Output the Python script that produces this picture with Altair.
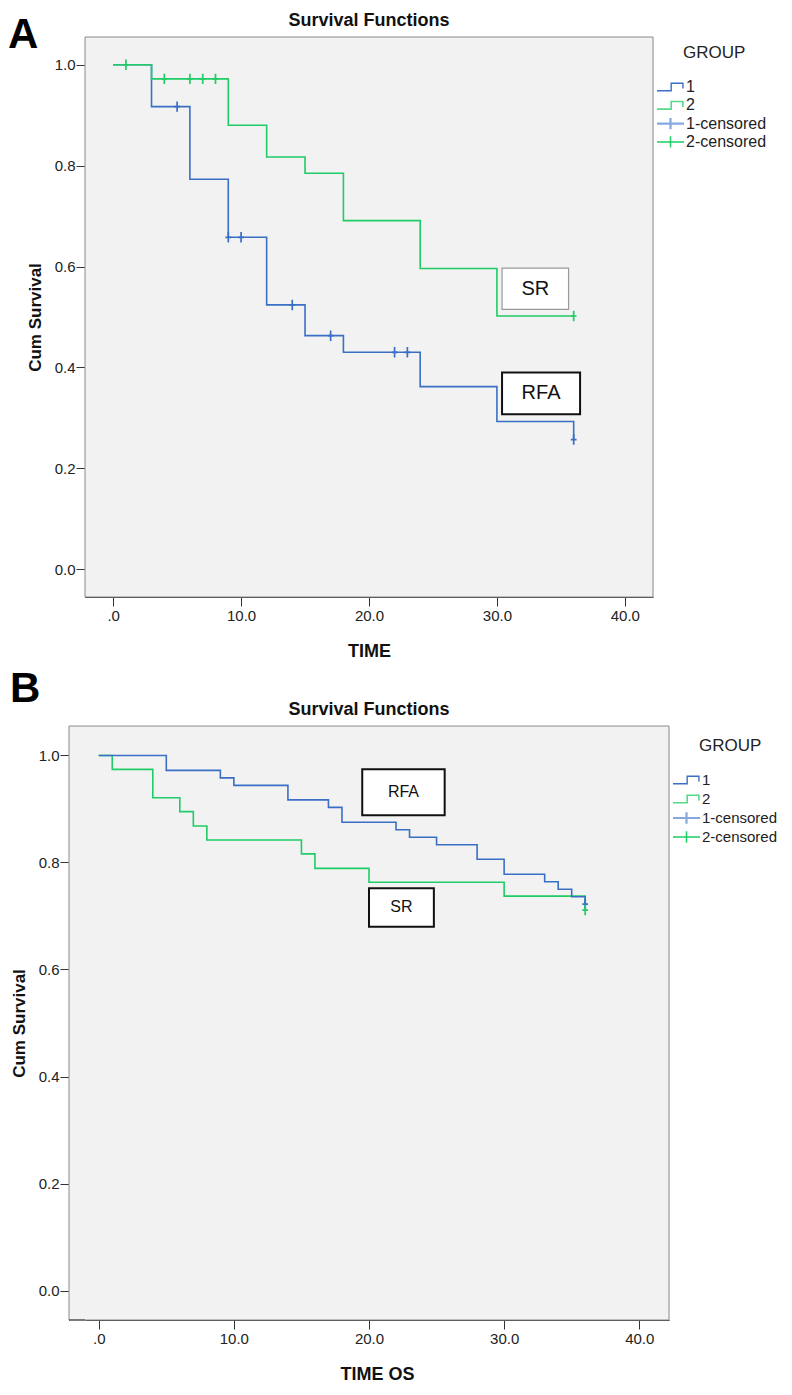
import altair as alt
import pandas as pd

FONT = "Liberation Sans"
BLUE = "#3b6fc6"
GREEN = "#1fcc66"
BLUE_LIGHT = "#86a8de"
BG = "#f2f2f2"
FRAME = "#8a8a8a"
AXIS = "#333333"

# ---------------- Panel A (TIME) ----------------
a_g1_time = [0, 3, 6, 9, 12, 15, 18, 24, 30, 36]
a_g1_surv = [1.0, 0.917, 0.773, 0.658, 0.524, 0.463, 0.430, 0.362, 0.293, 0.257]
a_g2_time = [0, 3, 9, 12, 15, 18, 24, 30, 36]
a_g2_surv = [1.0, 0.972, 0.880, 0.817, 0.785, 0.691, 0.596, 0.502, 0.502]
a_g1_cens_time = [5, 9, 10, 14, 17, 22, 23, 36]
a_g1_cens_surv = [0.917, 0.658, 0.658, 0.524, 0.463, 0.430, 0.430, 0.257]
a_g2_cens_time = [1, 4, 6, 7, 8, 36]
a_g2_cens_surv = [1.0, 0.972, 0.972, 0.972, 0.972, 0.502]

# ---------------- Panel B (TIME OS) ----------------
b_g1_time = [0, 5, 9, 10, 14, 17, 18, 22, 23, 25, 28, 30, 33, 34, 35, 36]
b_g1_surv = [1.0, 0.972, 0.958, 0.944, 0.917, 0.903, 0.875, 0.861, 0.847, 0.833,
             0.806, 0.778, 0.764, 0.750, 0.736, 0.722]
b_g2_time = [0, 1, 4, 6, 7, 8, 15, 16, 20, 30, 36]
b_g2_surv = [1.0, 0.974, 0.921, 0.895, 0.868, 0.842, 0.816, 0.789, 0.763, 0.737, 0.711]
b_g1_cens_time = [36]
b_g1_cens_surv = [0.722]
b_g2_cens_time = [36]
b_g2_cens_surv = [0.711]

LEGEND_LABELS = ["1", "2", "1-censored", "2-censored"]
X_TICKS = [0, 10, 20, 30, 40]
Y_TICKS = [0, 0.2, 0.4, 0.6, 0.8, 1.0]

X_MIN, X_MAX = -2.2, 42.2
Y_DOMAIN = [-0.055, 1.055]

STEP_ICON = "M -1 0.28 L 0.05 0.28 L 0.05 -0.28 L 0.92 -0.28 L 0.92 0.12"
CENS_ICON = "M -1 0 L 1 0 M 0 -0.42 L 0 0.42"
CROSS = "M 0 -1 L 0 1 M -0.55 0 L 0.55 0"


def one():
    return alt.Data(values=[{"k": 1}])


def panel(frame_w, h, shift, g1t, g1s, g2t, g2s, c1t, c1s, c2t, c2s, boxes,
          xtitle, letter, letter_pos, legend_pos, row_gap, leg_fs,
          blue_on_top, top_space):
    # The visible frame spans [-shift, view_w]; the view itself starts at 0.
    view_w = frame_w - shift
    px_per_unit = frame_w / (X_MAX - X_MIN)
    x_lo = X_MIN + shift / px_per_unit
    xscale = alt.Scale(domain=[x_lo, X_MAX], nice=False, zero=False)
    yscale = alt.Scale(domain=Y_DOMAIN, nice=False, zero=False)
    xaxis = alt.Axis(
        values=X_TICKS,
        labelExpr="datum.value == 0 ? '.0' : format(datum.value, '.1f')",
        tickSize=9, labelPadding=2, labelFontSize=15, labelFont=FONT,
        labelColor="#222", domainColor=AXIS, tickColor=AXIS, grid=False,
        title=xtitle, titleFont=FONT, titleFontSize=18, titleFontWeight="bold",
        titlePadding=19, titleColor="#111",
    )
    yaxis = alt.Axis(
        values=Y_TICKS, format=".1f", offset=shift,
        tickSize=9, labelPadding=1, labelFontSize=15, labelFont=FONT,
        labelColor="#222", domainColor=AXIS, tickColor=AXIS, grid=False,
        title="Cum Survival", titleFont=FONT, titleFontSize=17,
        titleFontWeight="bold", titlePadding=10, titleColor="#111",
    )

    layers = []
    # plot frame / background
    layers.append(
        alt.Chart(one()).mark_rect(
            fill=BG, stroke=FRAME, strokeWidth=1
        ).encode(x=alt.value(-shift), x2=alt.value(view_w),
                 y=alt.value(0), y2=alt.value(h))
    )
    if shift > 0:
        layers.append(
            alt.Chart(one()).mark_rule(color=AXIS, strokeWidth=1).encode(
                x=alt.value(-shift), x2=alt.value(0), y=alt.value(h)
            )
        )
    if top_space:
        # white hairline that only reserves room above the title
        layers.append(
            alt.Chart(one()).mark_rule(color="white", strokeWidth=1).encode(
                x=alt.value(0), x2=alt.value(2), y=alt.value(-top_space)
            )
        )

    def curve(t, s, col, with_axes):
        df = pd.DataFrame({"time": t, "surv": s})
        if with_axes:
            xe = alt.X("time:Q", scale=xscale, axis=xaxis)
            ye = alt.Y("surv:Q", scale=yscale, axis=yaxis)
        else:
            xe = alt.X("time:Q", scale=xscale)
            ye = alt.Y("surv:Q", scale=yscale)
        return alt.Chart(df).mark_line(
            interpolate="step-after", strokeWidth=1.6, color=col
        ).encode(x=xe, y=ye, order=alt.Order("time:Q"))

    def censor(t, s, col):
        df = pd.DataFrame({"time": t, "surv": s})
        return alt.Chart(df).mark_point(
            shape=CROSS, size=110, filled=False, strokeWidth=1.7, opacity=1,
            color=col,
        ).encode(
            x=alt.X("time:Q", scale=xscale),
            y=alt.Y("surv:Q", scale=yscale),
        )

    if blue_on_top:
        layers += [curve(g2t, g2s, GREEN, True), curve(g1t, g1s, BLUE, False)]
    else:
        layers += [curve(g1t, g1s, BLUE, True), curve(g2t, g2s, GREEN, False)]
    layers += [censor(c1t, c1s, BLUE), censor(c2t, c2s, GREEN)]

    # annotation boxes
    for b in boxes:
        bdf = pd.DataFrame([b])
        layers.append(
            alt.Chart(bdf).mark_rect(
                fill="white", stroke=b["stroke"], strokeWidth=b["sw"]
            ).encode(
                x=alt.X("x0:Q", scale=xscale), x2="x1:Q",
                y=alt.Y("y0:Q", scale=yscale), y2="y1:Q",
            )
        )
        layers.append(
            alt.Chart(bdf).mark_text(
                font=FONT, fontSize=b["fs"], color="#111", baseline="middle",
                align="center",
            ).encode(
                x=alt.X("xc:Q", scale=xscale),
                y=alt.Y("yc:Q", scale=yscale),
                text="label:N",
            )
        )

    # manual legend
    lx, ly = legend_pos
    layers.append(
        alt.Chart(one()).mark_text(
            text="GROUP", font=FONT, fontSize=17, color="#222", align="left",
            baseline="middle",
        ).encode(x=alt.value(lx + 26), y=alt.value(ly))
    )
    icon_specs = [
        (STEP_ICON, BLUE, 1.4),
        (STEP_ICON, "#55d98a", 1.6),
        (CENS_ICON, BLUE_LIGHT, 2.2),
        (CENS_ICON, GREEN, 1.5),
    ]
    for i, (lab, (shape, col, sw)) in enumerate(zip(LEGEND_LABELS, icon_specs)):
        yy = ly + 34 + i * row_gap
        layers.append(
            alt.Chart(one()).mark_point(
                shape=shape, size=27 * 27, filled=False, stroke=col,
                strokeWidth=sw, opacity=1,
            ).encode(x=alt.value(lx + 13.5), y=alt.value(yy))
        )
        layers.append(
            alt.Chart(one()).mark_text(
                text=lab, font=FONT, fontSize=leg_fs, color="#222",
                align="left", baseline="middle",
            ).encode(x=alt.value(lx + 29), y=alt.value(yy))
        )

    # panel title (as text so that it stays right above the frame)
    layers.append(
        alt.Chart(one()).mark_text(
            text="Survival Functions", font=FONT, fontSize=18,
            fontWeight="bold", color="#111", align="center", baseline="middle",
        ).encode(x=alt.value((view_w - shift) / 2), y=alt.value(-16))
    )
    # panel letter
    layers.append(
        alt.Chart(one()).mark_text(
            text=letter, font=FONT, fontSize=42, fontWeight="bold",
            color="#000", align="left", baseline="alphabetic",
        ).encode(x=alt.value(letter_pos[0]), y=alt.value(letter_pos[1]))
    )

    return alt.layer(*layers).properties(
        width=view_w, height=h,
        view=alt.ViewBackground(fill=BG, strokeOpacity=0),
    )


def box(label, x0, x1, y0, y1, stroke, sw, fs):
    return {"label": label, "x0": x0, "x1": x1, "y0": y0, "y1": y1,
            "xc": (x0 + x1) / 2, "yc": (y0 + y1) / 2,
            "stroke": stroke, "sw": sw, "fs": fs}


boxes_a = [
    box("SR", 30.4, 35.6, 0.597, 0.515, "#999999", 1.2, 20),
    box("RFA", 30.4, 36.5, 0.390, 0.307, "#111111", 2, 20),
]
boxes_b = [
    box("RFA", 19.5, 25.6, 0.974, 0.888, "#111111", 2, 16),
    box("SR", 20.0, 24.8, 0.752, 0.680, "#111111", 2, 16),
]

panel_a = panel(568, 560, 0, a_g1_time, a_g1_surv, a_g2_time, a_g2_surv,
                a_g1_cens_time, a_g1_cens_surv, a_g2_cens_time, a_g2_cens_surv,
                boxes_a, "TIME", "A", (-77, 11), (572, 16), 18.3, 16, False,
                28)
panel_b = panel(600, 594, 16, b_g1_time, b_g1_surv, b_g2_time, b_g2_surv,
                b_g1_cens_time, b_g1_cens_surv, b_g2_cens_time, b_g2_cens_surv,
                boxes_b, "TIME OS", "B", (-75, -24), (588, 20), 19, 15, True,
                0)

chart = alt.vconcat(panel_a, panel_b, spacing=8).properties(
    padding=0
).configure_view(
    fill=BG, stroke=FRAME, strokeWidth=1
).configure(background="white")

chart.save("out.html", embed_options={"renderer": "svg", "actions": False})
